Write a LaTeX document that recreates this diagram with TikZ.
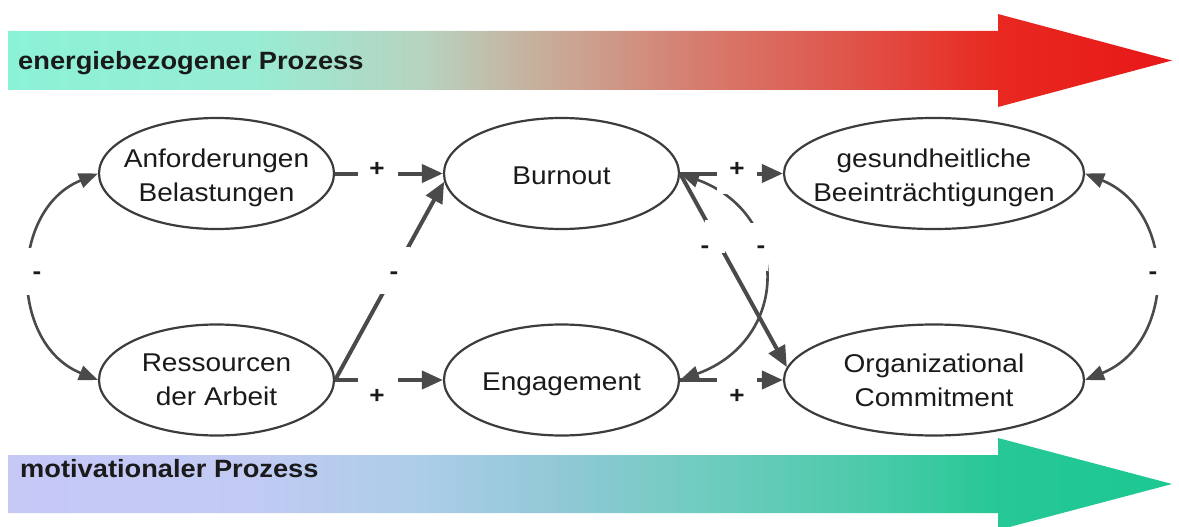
\documentclass[tikz,border=0pt]{standalone}
\usepackage{fontspec}
\setmainfont{Liberation Sans}[FakeStretch=1.09]
\usetikzlibrary{arrows.meta,shapes.geometric}

\definecolor{ink}{HTML}{1A1A1A}
\definecolor{edge}{HTML}{4A4A4A}
\definecolor{rim}{HTML}{3C3C3C}

% colour stops of the upper (energy) band
\definecolor{eA}{RGB}{140,242,215}
\definecolor{eB}{RGB}{152,236,212}
\definecolor{eC}{RGB}{182,212,192}
\definecolor{eD}{RGB}{202,168,150}
\definecolor{eE}{RGB}{214,124,110}
\definecolor{eF}{RGB}{224,84,74}
\definecolor{eG}{RGB}{232,40,32}
\definecolor{eH}{RGB}{232,24,24}
% colour stops of the lower (motivation) band
\definecolor{mA}{RGB}{198,200,246}
\definecolor{mB}{RGB}{194,202,244}
\definecolor{mC}{RGB}{172,205,232}
\definecolor{mD}{RGB}{145,200,214}
\definecolor{mE}{RGB}{112,204,192}
\definecolor{mF}{RGB}{80,202,172}
\definecolor{mG}{RGB}{38,200,150}
\definecolor{mH}{RGB}{28,200,145}

\pgfdeclarehorizontalshading{energyflow}{100bp}{%
  color(0bp)=(eA); color(25bp)=(eA); color(35.4bp)=(eB); color(42.7bp)=(eC);
  color(48.7bp)=(eD); color(54.7bp)=(eE); color(61.2bp)=(eF); color(67.6bp)=(eG);
  color(75bp)=(eH); color(100bp)=(eH)}
\pgfdeclarehorizontalshading{motivflow}{100bp}{%
  color(0bp)=(mA); color(25bp)=(mA); color(35.4bp)=(mB); color(42.7bp)=(mC);
  color(48.7bp)=(mD); color(54.7bp)=(mE); color(61.2bp)=(mF); color(67.6bp)=(mG);
  color(75bp)=(mH); color(100bp)=(mH)}

\newcommand{\zerow}[1]{\makebox[0pt]{#1}}
\newcommand{\tallstrut}{\rule{0pt}{27pt}}

\begin{document}
\begin{tikzpicture}[x=1pt,y=1pt,
  every node/.style={font=\fontsize{25.7}{34}\selectfont, text=ink},
  oval/.style={ellipse, draw=rim, line width=2.2pt, fill=white, inner sep=0pt,
               minimum height=111pt, align=center},
  oneline/.style={oval, text height=21pt, text depth=0pt},
  link/.style={draw=edge, line width=4pt, -{Triangle[length=21pt,width=18pt]}},
  bow/.style={draw=edge, line width=2.6pt,
              {Triangle[length=19pt,width=15pt]}-{Triangle[length=19pt,width=15pt]}},
  gapmask/.style 2 args={fill=white, inner sep=0pt, minimum width=#1, minimum height=#2},
  signlbl/.style={font=\fontsize{24}{24}\selectfont\bfseries, inner sep=0pt},
  banner/.style={font=\fontsize{25}{30}\selectfont\bfseries, anchor=base west, inner sep=0pt}
]
\useasboundingbox (0,0) rectangle (1179,-527);
\fill[white] (0,0) rectangle (1179,-527);
\clip (0,0) rectangle (1179,-527);

% process bands
\shade[shading=energyflow] (8,-31) -- (998,-31) -- (998,-14) -- (1172,-60.5)
  -- (998,-107) -- (998,-90) -- (8,-90) -- cycle;
\shade[shading=motivflow] (8,-455) -- (998,-455) -- (998,-438) -- (1172,-484)
  -- (998,-530) -- (998,-513) -- (8,-513) -- cycle;
\node[banner] (energy) at (18,-70) {energiebezogener Prozess};
\node[banner] (motiv) at (20,-477) {motivationaler Prozess};

% constructs
\node[oval, minimum width=235pt] (anf) at (216.5,-173.5) {\tallstrut\zerow{Anforderungen}\\\zerow{Belastungen}};
\node[oval, minimum width=235pt] (res) at (216.5,-380) {\zerow{Ressourcen}\\\zerow{der Arbeit}};
\node[oneline, minimum width=235pt] (bur) at (561.5,-173.5) {Burnout};
\node[oneline, minimum width=235pt] (eng) at (561.5,-380) {Engagement};
\node[oval, minimum width=300pt] (ges) at (934,-173.5) {\tallstrut\zerow{gesundheitliche}\\\zerow{Beeinträchtigungen}};
\node[oval, minimum width=300pt] (org) at (934,-380) {\zerow{Organizational}\\\zerow{Commitment}};

% correlations (curved, two-headed)
\draw[bow] (anf.west) .. controls +(202:96) and +(158:96) .. node[gapmask={16pt}{47pt}, pos=0.48] (g1) {} (res.west);
\draw[bow] (ges.east) .. controls +(-22:99) and +(22:99) .. node[gapmask={16pt}{47pt}, pos=0.48] (g2) {} (org.east);
\draw[bow] (bur.east) .. controls +(-20:118) and +(20:118) .. node[gapmask={20pt}{48pt}, pos=0.38] (g3) {} (eng.east);

% effects (straight)
\draw[link] (anf.east) -- node[gapmask={40pt}{12pt}, pos=0.4] (g4) {} (bur.west);
\draw[link] (res.east) -- node[gapmask={40pt}{12pt}, pos=0.4] (g5) {} (eng.west);
\draw[link] (res.east) -- node[gapmask={30pt}{47pt}, pos=0.55] (g6) {} (bur.184);
\draw[link] (bur.east) -- node[gapmask={40pt}{40pt}, pos=0.55] (g7) {} (ges.west);
\draw[link] (eng.east) -- node[gapmask={40pt}{12pt}, pos=0.55] (g8) {} (org.west);
\draw[link] (bur.east) -- node[gapmask={20pt}{33pt}, pos=0.326] (g9) {} (org.175);

% signs
\node[signlbl] (p1) at (377,-169) {+};
\node[signlbl] (p2) at (737,-169) {+};
\node[signlbl] (p3) at (377,-396) {+};
\node[signlbl] (p4) at (737,-396) {+};
\node[signlbl] (n1) at (37,-276) {-};
\node[signlbl] (n2) at (394,-276) {-};
\node[signlbl] (n3) at (705,-250) {-};
\node[signlbl] (n4) at (761,-250) {-};
\node[signlbl] (n5) at (1153,-276) {-};
\end{tikzpicture}
\end{document}
